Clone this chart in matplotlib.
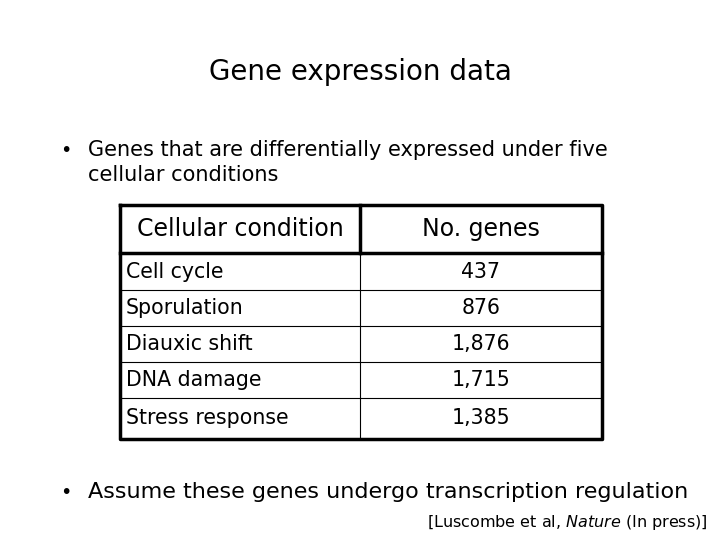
import matplotlib.pyplot as plt

conditions = ['Cell cycle', 'Sporulation', 'Diauxic shift', 'DNA damage', 'Stress response']
n_genes = ['437', '876', '1,876', '1,715', '1,385']
headers = ['Cellular condition', 'No. genes']

plt.rcParams['font.family'] = ['DejaVu Sans']
fig = plt.figure(figsize=(7.2, 5.4), dpi=100)
ax = fig.add_axes([0, 0, 1, 1])
ax.set_xlim(0, 720)
ax.set_ylim(540, 0)
ax.axis('off')

ax.text(360, 72, 'Gene expression data', ha='center', va='center', fontsize=20)
ax.text(60, 150, '•', ha='left', va='center', fontsize=14)
ax.text(88, 150, 'Genes that are differentially expressed under five', ha='left', va='center', fontsize=15)
ax.text(88, 175, 'cellular conditions', ha='left', va='center', fontsize=15)

# table
left, mid, right = 120, 360, 602
top, head_bot = 205, 253
row_lines = [253, 290, 326, 362, 398, 439]
ax.text((left + mid) / 2, (top + head_bot) / 2, headers[0], ha='center', va='center', fontsize=17)
ax.text((mid + right) / 2, (top + head_bot) / 2, headers[1], ha='center', va='center', fontsize=17)
for i, (c, n) in enumerate(zip(conditions, n_genes)):
    yc = (row_lines[i] + row_lines[i + 1]) / 2
    ax.text(left + 6, yc, c, ha='left', va='center', fontsize=14.8)
    ax.text((mid + right) / 2, yc, n, ha='center', va='center', fontsize=14.8)
for y in row_lines[1:-1]:
    ax.plot([left, right], [y, y], color='black', lw=0.8)
ax.plot([left, right], [head_bot, head_bot], color='black', lw=2.5)
ax.plot([mid, mid], [top, row_lines[-1]], color='black', lw=0.8)
ax.plot([mid, mid], [top, head_bot], color='black', lw=2.5)
ax.plot([left, right, right, left, left], [top, top, row_lines[-1], row_lines[-1], top], color='black', lw=2.5)

ax.text(60, 492, '•', ha='left', va='center', fontsize=14)
ax.text(88, 492, 'Assume these genes undergo transcription regulation', ha='left', va='center', fontsize=16)
ax.text(708, 522, '[Luscombe et al, $\\it{Nature}$ (In press)]', ha='right', va='center', fontsize=11.5)

fig.savefig('out.png', dpi=100)
